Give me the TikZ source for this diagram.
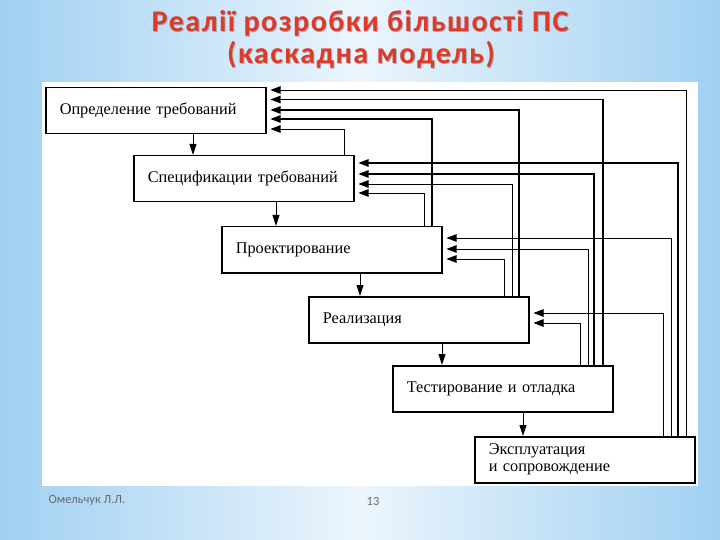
\documentclass[tikz,border=0pt]{standalone}
\usepackage{fontspec}
\setmainfont{Liberation Serif}
\newfontfamily\titlefont[LetterSpace=5]{Carlito}
\newfontfamily\footfont{Carlito}
\usetikzlibrary{arrows.meta}
\definecolor{skyedge}{RGB}{160,208,242}
\definecolor{skymid}{RGB}{236,245,252}
\definecolor{titlered}{RGB}{222,58,42}
\definecolor{footgray}{RGB}{105,105,110}
\begin{document}
\begin{tikzpicture}[x=1pt,y=-1pt,
  box/.style={draw=black, line width=1.5pt, fill=white, anchor=north west,
    minimum width=220pt, minimum height=46pt, text width=192pt,
    inner xsep=14pt, inner ysep=0pt, align=left,
    font=\fontsize{16.3}{17}\selectfont},
  fb/.style={line width=0.8pt, -{Triangle[length=10pt,width=7.5pt]}, shorten >=4pt},
  fbthick/.style={fb, line width=1.3pt},
  down/.style={line width=1pt, -{Triangle[length=11pt,width=7pt]}},
  ttl/.style={anchor=base, font=\titlefont\bfseries\fontsize{30}{32}\selectfont, text=titlered},
  ttlsh/.style={ttl, text=black, opacity=0.25},
  foot/.style={anchor=base, font=\footfont\fontsize{12.5}{14}\selectfont, text=footgray}
]
\useasboundingbox (0,0) rectangle (720,540);
% background
\fill[left color=skyedge, right color=skyedge, middle color=skymid] (0,0) rectangle (720,540);
\fill[white] (42,82) rectangle (698,486);
% title
\node[ttlsh] (t1s) at (361,33) {Реалії розробки більшості ПС};
\node[ttlsh] (t2s) at (362,64.5) {(каскадна модель)};
\node[ttl] (t1) at (360,32) {Реалії розробки більшості ПС};
\node[ttl] (t2) at (361,63.5) {(каскадна модель)};
% footer
\node[foot, anchor=base west] (author) at (45,503) {Омельчук Л.Л.};
\node[foot] (page) at (373,505) {13};
% boxes
\node[box] (b1) at (45,87) {Определение требований};
\node[box] (b2) at (133,155) {Спецификации требований};
\node[box] (b3) at (221,226) {Проектирование};
\node[box] (b4) at (308,296) {Реализация};
\node[box] (b5) at (392,365) {Тестирование и отладка};
\node[box] (b6) at (474,436) {Эксплуатация\\и сопровождение};
% forward arrows
\draw[down] (b1.south -| 193,0) -- (b2.north -| 193,0);
\draw[down] (b2.south -| 276,0) -- (b3.north -| 276,0);
\draw[down] (b3.south -| 360,0) -- (b4.north -| 360,0);
\draw[down] (b4.south -| 442,0) -- (b5.north -| 442,0);
\draw[down] (b5.south -| 523,0) -- (b6.north -| 523,0);
% feedback to b1
\draw[fb]      (b6.north -| 686,0) |- (b1.east |- 0,90);
\draw[fbthick] (b5.north -| 603,0) |- (b1.east |- 0,99.5);
\draw[fbthick] (b4.north -| 519,0) |- (b1.east |- 0,110);
\draw[fbthick] (b3.north -| 432,0) |- (b1.east |- 0,119);
\draw[fb]      (b2.north -| 344,0) |- (b1.east |- 0,129);
% feedback to b2
\draw[fbthick] (b6.north -| 678,0) |- (b2.east |- 0,163);
\draw[fbthick] (b5.north -| 594,0) |- (b2.east |- 0,174);
\draw[fb]      (b4.north -| 512,0) |- (b2.east |- 0,184);
\draw[fb]      (b3.north -| 424,0) |- (b2.east |- 0,193);
% feedback to b3
\draw[fb] (b6.north -| 671,0) |- (b3.east |- 0,238);
\draw[fb] (b5.north -| 588,0) |- (b3.east |- 0,249);
\draw[fb] (b4.north -| 504,0) |- (b3.east |- 0,259);
% feedback to b4
\draw[fb] (b6.north -| 663,0) |- (b4.east |- 0,313);
\draw[fb] (b5.north -| 580,0) |- (b4.east |- 0,323);
\end{tikzpicture}
\end{document}
